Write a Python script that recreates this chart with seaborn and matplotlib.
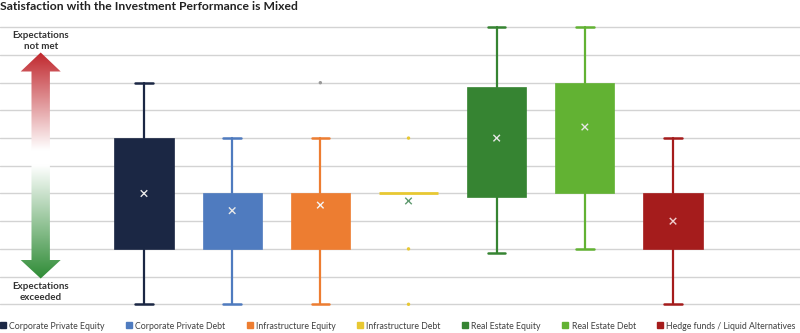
import numpy as np
import pandas as pd
import matplotlib
matplotlib.use("Agg")
import matplotlib.pyplot as plt
import seaborn as sns
from matplotlib.patches import Polygon
from matplotlib.lines import Line2D

# ---- data ----
categories = ["Corporate Private Equity", "Corporate Private Debt", "Infrastructure Equity",
              "Infrastructure Debt", "Real Estate Equity", "Real Estate Debt",
              "Hedge funds / Liquid Alternatives"]
colors = ["#1b2744", "#4f7bbf", "#ed7d31", "#e8c832", "#368432", "#62b233", "#a51c1c"]
whisker_low = [0, 0, 0, 4, 1.86, 2, 0]
q1 = [2, 2, 2, 4, 3.87, 4, 2]
q3 = [6, 4, 4, 4, 7.86, 8, 4]
whisker_high = [8, 6, 6, 4, 10, 10, 6]
means = [4.0, 3.38, 3.58, 3.73, 6.0, 6.4, 3.0]
outliers = [[], [], [8], [0, 2, 6], [], [], []]
outlier_colors = ["#999999", "#999999", "#999999", "#e8c832", "#999999", "#999999", "#999999"]
mean_colors = ["#e8e8e8", "#e8e8e8", "#f5f5f5", "#5f9a70", "#e8e8e8", "#e8e8e8", "#f0d0d0"]
title = "Satisfaction with the Investment Performance is Mixed"
top_label = "Expectations\nnot met"
bottom_label = "Expectations\nexceeded"

sns.set_theme(style="white")
plt.rcParams["font.family"] = ["Lato", "DejaVu Sans"]

fig = plt.figure(figsize=(8, 3.33), dpi=100)
ax = fig.add_axes([0, 0.0613, 1, 0.8817])

positions = np.arange(len(categories))
stats = []
for i, c in enumerate(categories):
    stats.append(dict(label=c, whislo=whisker_low[i], q1=q1[i], med=q1[i], q3=q3[i],
                      whishi=whisker_high[i], fliers=[], mean=means[i]))
bp = ax.bxp(stats, positions=positions, widths=0.67, patch_artist=True,
            showfliers=False, showmeans=False, manage_ticks=False,
            medianprops=dict(linewidth=0), capwidths=0.2)
for i, col in enumerate(colors):
    bp["boxes"][i].set_facecolor(col)
    bp["boxes"][i].set_edgecolor(col)
    bp["boxes"][i].set_linewidth(2 if q1[i] == q3[i] else 0.5)
    for w in bp["whiskers"][2 * i:2 * i + 2]:
        w.set_color(col); w.set_linewidth(1.6)
    for cp in bp["caps"][2 * i:2 * i + 2]:
        cp.set_color(col); cp.set_linewidth(1.8)
        if q1[i] == q3[i]:
            cp.set_visible(False)

# means
mdf = pd.DataFrame({"pos": positions, "mean": means, "cat": categories})
sns.scatterplot(data=mdf, x="pos", y="mean", hue="cat", palette=dict(zip(categories, mean_colors)),
                marker="x", s=22, linewidth=1.0, legend=False, ax=ax, zorder=5)
# outliers
orows = [(positions[i], v, categories[i]) for i in range(len(categories)) for v in outliers[i]]
odf = pd.DataFrame(orows, columns=["pos", "val", "cat"])
sns.scatterplot(data=odf, x="pos", y="val", hue="cat",
                palette=dict(zip(categories, outlier_colors)), s=6, linewidth=0,
                legend=False, ax=ax, zorder=5)

ax.set_xlim(-144 / 88.17, (800 - 144) / 88.17)
ax.set_ylim(-0.3, 10.3)
ax.set_yticks(np.arange(0, 11, 1))
ax.yaxis.grid(True, color="#d3d3d3", linewidth=1)
ax.set_axisbelow(True)
ax.tick_params(left=False, bottom=False, labelleft=False, labelbottom=False)
for s in ax.spines.values():
    s.set_visible(False)
ax.set_xlabel(""); ax.set_ylabel("")

# ---- gradient double arrow overlay (pixel coordinates) ----
ov = fig.add_axes([0, 0, 1, 1], zorder=3)
ov.set_xlim(0, 800); ov.set_ylim(333, 0); ov.axis("off")
ov.patch.set_alpha(0)
cx = 40.7
arrow_pts = [(cx, 52.5), (cx + 20, 71.5), (cx + 9.2, 71.5), (cx + 9.2, 260), (cx + 20, 260),
             (cx, 278.5), (cx - 20, 260), (cx - 9.2, 260), (cx - 9.2, 71.5), (cx - 20, 71.5)]
poly = Polygon(arrow_pts, closed=True, facecolor="none", edgecolor="none")
ov.add_patch(poly)
ys = np.linspace(52, 279, 300)
red = np.array([192, 39, 45]) / 255
green = np.array([46, 139, 53]) / 255
white = np.array([1.0, 1.0, 1.0])
grad = np.zeros((len(ys), 1, 3))
for k, yv in enumerate(ys):
    if yv < 150:
        t = (yv - 52) / (150 - 52)
        grad[k, 0] = red * (1 - t) + white * t
    elif yv < 165:
        grad[k, 0] = white
    else:
        t = (yv - 165) / (279 - 165)
        grad[k, 0] = white * (1 - t) + green * t
im = ov.imshow(grad, extent=[cx - 21, cx + 21, 279, 52], aspect="auto", interpolation="bilinear")
im.set_clip_path(poly)
ov.set_xlim(0, 800); ov.set_ylim(333, 0)

ov.text(cx, 41, top_label, ha="center", va="center", fontsize=7, fontweight="bold",
        color="#333333", linespacing=1.3)
ov.text(cx, 292, bottom_label, ha="center", va="center", fontsize=7, fontweight="bold",
        color="#333333", linespacing=1.3)
ov.text(0, 7, title, ha="left", va="center", fontsize=8.7, fontweight="bold", color="#222222")

# ---- legend ----
handles = [Line2D([0], [0], marker="s", linestyle="none", markersize=4.3,
                  markerfacecolor=c, markeredgecolor=c) for c in colors]
fig.legend(handles, categories, loc="center left", bbox_to_anchor=(0.0, 0.021), ncol=7,
           frameon=False, fontsize=6.3, handlelength=0.7, handletextpad=0.35,
           columnspacing=2.45, labelcolor="#404040", borderpad=0, borderaxespad=0)

fig.savefig("out.png", dpi=100)
